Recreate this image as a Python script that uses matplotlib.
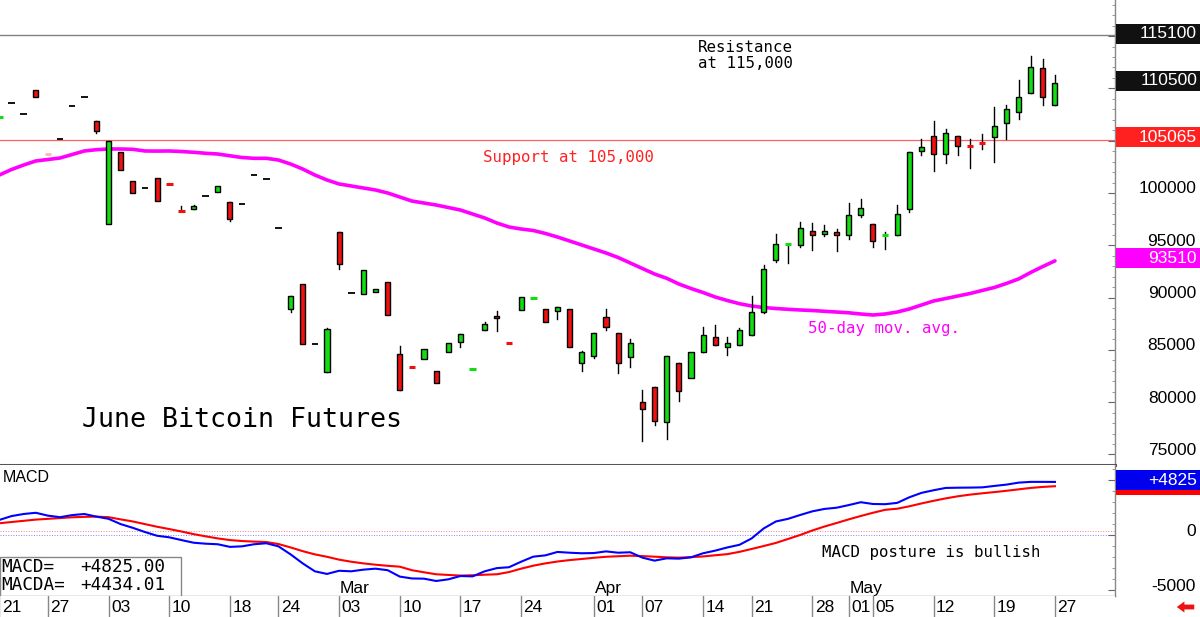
import matplotlib
matplotlib.use("Agg")
import matplotlib.pyplot as plt
from matplotlib.patches import Rectangle
from matplotlib.transforms import blended_transform_factory
from matplotlib.ticker import MultipleLocator

plt.rcParams['font.family'] = ['Liberation Sans', 'DejaVu Sans']

# ---------------- data (one entry per trading day, Jan 21 .. May 27) ----------------
opens = [107200, 108600, 107580, 109850, 103750, 105160, 108340, 109180, 106880, 97040,
         103950, 101170, 100480, 101430, 100860, 98320, 98440, 99710, 100090, 99170,
         98920, 101720, 101340, 96680, 88910, 91300, 85530, 82910, 96240, 90470,
         90310, 90560, 91490, 84610, 83380, 84160, 82980, 84830, 85730, 83120,
         86870, 88270, 85710, 88780, 89910, 88940, 88690, 88880, 83780, 84440,
         88170, 86590, 84350, 80020, 81420, 78110, 83720, 82280, 84770, 86230,
         85300, 85500, 86390, 88650, 93590, 95070, 95030, 96370, 96050, 96240,
         95950, 97900, 97010, 95960, 95950, 98500, 103990, 105480, 103700, 105480,
         104510, 104830, 105380, 106660, 107710, 109590, 111920, 108380]
highs = [107260, 108600, 107580, 109850, 103750, 105160, 108340, 109180, 106880, 104970,
         103950, 101170, 100480, 101430, 100860, 98780, 98880, 99710, 100700, 99170,
         98920, 101720, 101340, 96680, 90150, 91300, 85530, 87120, 96240, 90470,
         92640, 90790, 91490, 85400, 83380, 85090, 82980, 85690, 86520, 83160,
         87640, 88750, 85710, 90030, 89950, 88940, 89070, 88880, 84920, 86640,
         88890, 86590, 86020, 81170, 81420, 84420, 83720, 84770, 87220, 87410,
         86230, 87060, 90150, 93120, 96080, 95110, 97230, 97160, 96910, 96590,
         99010, 99460, 97010, 96300, 98820, 103920, 105190, 106910, 106150, 105480,
         105190, 105640, 108190, 108380, 110770, 113100, 112840, 111310]
lows = [107200, 108600, 107580, 109180, 103710, 105160, 108340, 109180, 105760, 97040,
        102200, 100030, 100480, 99260, 100820, 98290, 98440, 99710, 100090, 97320,
        98920, 101720, 101340, 96680, 88620, 85530, 85530, 82910, 92700, 90470,
        90310, 90560, 88360, 81140, 83340, 84160, 81810, 84830, 85250, 83120,
        86870, 86830, 85670, 88780, 89910, 87690, 87950, 85300, 83010, 84200,
        86900, 82790, 83340, 76320, 77790, 76450, 80140, 82280, 84770, 85440,
        84540, 85500, 86390, 88500, 93430, 93280, 94870, 94550, 95890, 94450,
        95570, 97730, 94810, 94620, 95950, 98180, 103600, 102130, 102840, 103630,
        102420, 104180, 102990, 105130, 107070, 109590, 108410, 108380]
closes = [107260, 108600, 107580, 109180, 103710, 105160, 108340, 109180, 105930, 104970,
          102200, 100030, 100480, 99260, 100820, 98290, 98780, 99710, 100700, 97480,
          98920, 101720, 101340, 96680, 90150, 85530, 85530, 86970, 93180, 90470,
          92640, 90790, 88360, 81140, 83340, 85090, 81810, 85690, 86520, 83160,
          87480, 88050, 85670, 90030, 89950, 87690, 89070, 85300, 84770, 86640,
          87160, 83720, 85630, 79380, 78170, 84420, 81100, 84770, 86450, 85440,
          85690, 86900, 88620, 92730, 95150, 95110, 96650, 96010, 96370, 95950,
          97870, 98540, 95380, 96000, 97990, 103920, 104430, 103700, 105710, 104460,
          104470, 104790, 106400, 108030, 109180, 112040, 109200, 110500]
ma50 = [101720, 102245, 102675, 103060, 103200, 103345, 103680, 104015, 104140, 104205,
        104205, 104175, 104015, 104005, 104015, 103965, 103890, 103795, 103725, 103555,
        103390, 103315, 103315, 103150, 102770, 102290, 101720, 101240, 100860, 100670,
        100475, 100285, 100000, 99615, 99230, 99040, 98850, 98610, 98370, 97990,
        97610, 97130, 96750, 96555, 96415, 96130, 95790, 95410, 95030, 94645,
        94265, 93830, 93305, 92780, 92255, 91845, 91300, 90870, 90485, 90055,
        89720, 89415, 89195, 89050, 88955, 88880, 88815, 88765, 88690, 88620,
        88545, 88430, 88335, 88430, 88620, 88910, 89290, 89675, 89910, 90150,
        90390, 90680, 90965, 91350, 91780, 92400, 92970, 93510]
macd = [1370, 1720, 1910, 2020, 1760, 1620, 1810, 1910, 1670, 1470,
        990, 650, 270, -70, -210, -460, -700, -790, -840, -1080,
        -1030, -840, -750, -1030, -1760, -2580, -3300, -3540, -3250, -3300,
        -3150, -3060, -3200, -3780, -3950, -3970, -4180, -4030, -3730, -3760,
        -3300, -3010, -2930, -2430, -1970, -1850, -1540, -1610, -1660, -1640,
        -1490, -1610, -1570, -2060, -2330, -2120, -2150, -2030, -1660, -1420,
        -1130, -890, -310, 600, 1230, 1470, 1820, 2150, 2370, 2480,
        2720, 2980, 2820, 2800, 2920, 3430, 3830, 4070, 4280, 4300,
        4310, 4330, 4460, 4580, 4760, 4830, 4830, 4825]
macda = [1070, 1180, 1290, 1400, 1470, 1540, 1610, 1650, 1670, 1620,
         1420, 1230, 990, 750, 540, 320, 80, -120, -310, -460,
         -550, -600, -640, -820, -1130, -1470, -1760, -1980, -2240, -2430,
         -2580, -2700, -2800, -2880, -3200, -3390, -3570, -3630, -3690, -3660,
         -3610, -3570, -3370, -3060, -2790, -2580, -2410, -2280, -2180, -2070,
         -1980, -1930, -1880, -1920, -1970, -2030, -2060, -2010, -1950, -1840,
         -1740, -1530, -1270, -1000, -720, -360, 0, 410, 770, 1090,
         1420, 1730, 2020, 2290, 2390, 2610, 2870, 3110, 3330, 3520,
         3670, 3790, 3900, 4020, 4150, 4280, 4370, 4434]
macd_last = 4825.00
macda_last = 4434.01
pale_days = [4]

day_ticks = [0, 4, 9, 14, 19, 23, 28, 33, 38, 43, 49, 53, 58, 62, 67, 70, 72, 77, 82, 87]
day_labels = ['21', '27', '03', '10', '18', '24', '03', '10', '17', '24',
              '01', '07', '14', '21', '28', '01', '05', '12', '19', '27']
month_ticks = [28, 49, 70]
month_labels = ['Mar', 'Apr', 'May']

price_ticks = [100000, 95000, 90000, 85000, 80000, 75000]
resistance = 115100
support = 105065
last_close = 110500
macd_ticks = [0, -5000]

# ---------------- layout ----------------
W, H = 1200, 617
fig = plt.figure(figsize=(W / 100, H / 100), dpi=100)
fig.patch.set_facecolor('white')

def fy(p):
    return 1 - p / H

ax = fig.add_axes([0, fy(465), 1115 / W, 465 / H])
axm = fig.add_axes([0, fy(596), 1115 / W, (596 - 465) / H])
axd = fig.add_axes([0, 0, 1115 / W, (617 - 596) / H])

XLIM = (0.05, 91.95)
PLIM = (73995, 118449)
MLIM = (-5545, 6364)
for a in (ax, axm, axd):
    a.set_xlim(*XLIM)
    a.set_xticks([])
    a.set_facecolor('white')

GREEN = '#11dd11'
RED = '#ee1111'
MAG = '#ff00ff'

# ---------------- main panel ----------------
ax.set_ylim(*PLIM)
ax.axhline(resistance, color='#808080', lw=1.0, zorder=1)
ax.axhline(support, color='#ff6060', lw=0.9, zorder=1)
xs = list(range(len(closes)))
ax.plot(xs, ma50, color=MAG, lw=2.6, zorder=2, solid_capstyle='round')

bw = 0.42
for i in xs:
    o, h, l, c = opens[i], highs[i], lows[i], closes[i]
    if h > max(o, c) or l < min(o, c):
        ax.plot([i, i], [l, h], color='black', lw=1.0, zorder=3)
    if abs(c - o) <= 60:
        if i in pale_days:
            col, lw = '#ffb4b4', 2.0
        elif c > o:
            col, lw = GREEN, 2.2
        elif c < o:
            col, lw = RED, 2.2
        else:
            col, lw = 'black', 1.3
        ax.plot([i - 0.27, i + 0.27], [(o + c) / 2] * 2, color=col, lw=lw,
                zorder=4, solid_capstyle='butt')
    else:
        col = GREEN if c > o else RED
        ax.add_patch(Rectangle((i - bw / 2, min(o, c)), bw, abs(c - o),
                               facecolor=col, edgecolor='black', lw=1.0, zorder=4))

mono = 'DejaVu Sans Mono'
def axfrac_y(ypix):
    return (465 - ypix) / 465
ax.text(698 / 1115, axfrac_y(47.5), 'Resistance', transform=ax.transAxes,
        family=mono, fontsize=11.3, va='center', ha='left', color='black')
ax.text(698 / 1115, axfrac_y(63), 'at 115,000', transform=ax.transAxes,
        family=mono, fontsize=11.3, va='center', ha='left', color='black')
ax.text(483 / 1115, axfrac_y(157.5), 'Support at 105,000', transform=ax.transAxes,
        family=mono, fontsize=11.3, va='center', ha='left', color='#ff2020')
ax.text(808 / 1115, axfrac_y(328), '50-day mov. avg.', transform=ax.transAxes,
        family=mono, fontsize=11.3, va='center', ha='left', color=MAG)
ax.text(82 / 1115, axfrac_y(427), 'June Bitcoin Futures', transform=ax.transAxes,
        family=mono, fontsize=19.2, va='baseline', ha='left', color='black')

for a in (ax, axm):
    a.spines['top'].set_visible(False)
    a.spines['left'].set_visible(False)
    a.spines['right'].set_color('#888888')
    a.spines['right'].set_linewidth(1.0)
ax.spines['bottom'].set_color('#555555')
ax.spines['bottom'].set_linewidth(2.2)
axm.spines['bottom'].set_color('#888888')
axm.spines['bottom'].set_linewidth(1.0)

ax.yaxis.tick_right()
ax.yaxis.set_major_locator(MultipleLocator(5000))
ax.yaxis.set_minor_locator(MultipleLocator(1000))
ax.tick_params(axis='y', which='major', direction='in', length=5, color='#666666',
               labelright=False, right=True, left=False)
ax.tick_params(axis='y', which='minor', direction='in', length=2.5, color='#888888',
               right=True, left=False)

axm.set_ylim(*MLIM)
axm.yaxis.tick_right()
axm.yaxis.set_major_locator(MultipleLocator(5000))
axm.yaxis.set_minor_locator(MultipleLocator(1000))
axm.tick_params(axis='y', which='major', direction='in', length=5, color='#666666',
                labelright=False, right=True, left=False)
axm.tick_params(axis='y', which='minor', direction='in', length=2.5, color='#888888',
                right=True, left=False)

main_u = (PLIM[1] - PLIM[0]) / 465
macd_u = (MLIM[1] - MLIM[0]) / 131

tr_main = blended_transform_factory(fig.transFigure, ax.transData)
tr_macd = blended_transform_factory(fig.transFigure, axm.transData)
LBL = 12.5
for v in price_ticks:
    ax.text(1196 / W, v + 4 * main_u, str(v), transform=tr_main, ha='right', va='center',
            fontsize=LBL, color='black', clip_on=False)

def box(a, tr, u, val, text, fc, off_px):
    c = val + off_px * u
    a.add_patch(Rectangle((1116 / W, c - 10 * u), 84 / W, 20 * u, transform=tr,
                          facecolor=fc, edgecolor='none', clip_on=False, zorder=10))
    if text:
        a.text(1197 / W, c, text, transform=tr, ha='right', va='center',
               fontsize=LBL, color='white', clip_on=False, zorder=11)

box(ax, tr_main, main_u, resistance, str(resistance), '#111111', 1.5)
box(ax, tr_main, main_u, last_close, str(last_close), '#111111', 2.5)
box(ax, tr_main, main_u, support, str(support), '#ff2020', 2.5)
box(ax, tr_main, main_u, ma50[-1], str(ma50[-1]), '#ff00ff', 2.5)

# ---------------- MACD panel ----------------
axm.axhline(4 / 11 * 1000, color='#ff8080', lw=0.7, ls=':', zorder=1)
axm.axhline(0, color='#8080ff', lw=0.7, ls=':', zorder=1)
axm.plot(xs, macda, color='#ff0000', lw=1.5, zorder=3)
axm.plot(xs, macd, color='#0000ff', lw=1.5, zorder=4)

for v in macd_ticks:
    axm.text(1196 / W, v + 4 * macd_u, str(v), transform=tr_macd, ha='right', va='center',
             fontsize=LBL, color='black', clip_on=False)
box(axm, tr_macd, macd_u, macda[-1], '', '#ff0000', 1.5)
box(axm, tr_macd, macd_u, macd[-1], '+%d' % macd[-1], '#0000ee', 1.5)

def mfy(ypix):
    return (596 - ypix) / 131
axm.text(3 / 1115, mfy(477), 'MACD', transform=axm.transAxes, fontsize=11.5,
         va='center', ha='left', color='black')
axm.text(822 / 1115, mfy(552.5), 'MACD posture is bullish', transform=axm.transAxes,
         family=mono, fontsize=11.3, va='center', ha='left', color='black')
mtr = blended_transform_factory(axm.transData, axm.transAxes)
for p, m in zip(month_ticks, month_labels):
    axm.text(p + 0.05, mfy(593), m, transform=mtr,
             fontsize=LBL, va='baseline', ha='left', color='black', zorder=2)

axm.add_patch(Rectangle((0, 0), 181 / 1115, mfy(557), transform=axm.transAxes,
                        facecolor='white', edgecolor='#888888', lw=1.0, zorder=8))
axm.text(1 / 1115, mfy(567), 'MACD=', transform=axm.transAxes, family=mono,
         fontsize=12.8, va='center', ha='left', zorder=9)
axm.text(80 / 1115, mfy(567), '%+.2f' % macd_last, transform=axm.transAxes, family=mono,
         fontsize=12.8, va='center', ha='left', zorder=9)
axm.text(1 / 1115, mfy(585), 'MACDA=', transform=axm.transAxes, family=mono,
         fontsize=12.8, va='center', ha='left', zorder=9)
axm.text(80 / 1115, mfy(585), '%+.2f' % macda_last, transform=axm.transAxes, family=mono,
         fontsize=12.8, va='center', ha='left', zorder=9)

# ---------------- date row ----------------
axd.set_ylim(0, 1)
axd.set_yticks([])
for s in axd.spines.values():
    s.set_visible(False)
for p, lab in zip(day_ticks, day_labels):
    axd.axvline(p, color='#888888', lw=1.0)
    axd.text(p + 0.2, 0.45, lab, fontsize=LBL, va='center', ha='left', color='black')

ax.annotate('', xy=(1174, 10), xytext=(1197, 10), xycoords='figure pixels',
            textcoords='figure pixels',
            arrowprops=dict(arrowstyle='simple,head_length=0.55,head_width=0.8,tail_width=0.35',
                            color='#ee1111', lw=0))

fig.savefig('out.png', dpi=100, facecolor='white')
